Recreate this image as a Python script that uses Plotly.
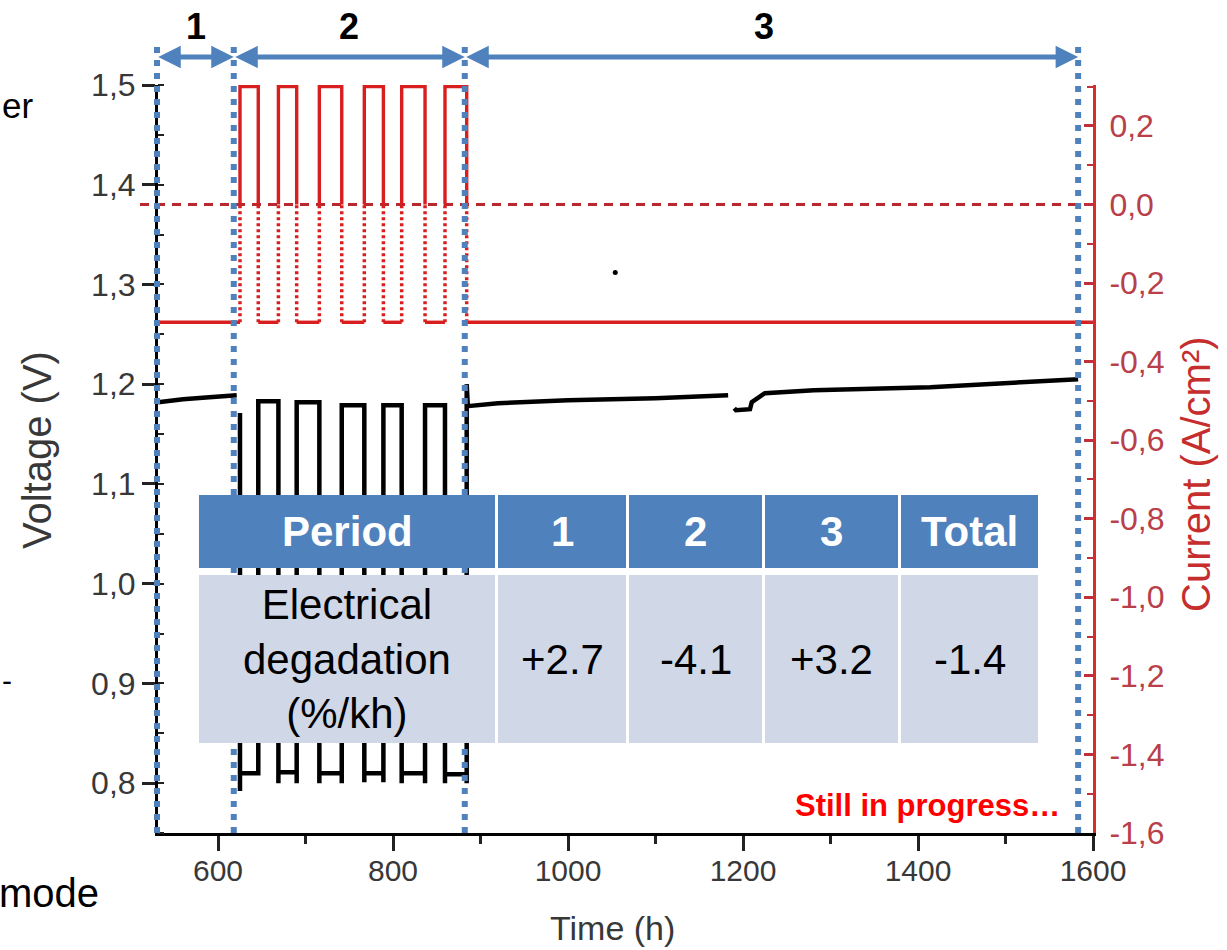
import plotly.graph_objects as go

# ---------------- data ----------------
period_bounds = [530, 618, 882, 1583]          # h, blue dotted separators
period_labels = ["1", "2", "3"]

t_start = 531.4
t_end = 1600
i_ec = -0.3          # A/cm2, electrolysis set point
i_fc = 0.3           # A/cm2, fuel-cell set point
i_zero = 0.0

# period 2 cycling: fuel-cell pulse start / end (h)
pulse_on = [625.1, 669.0, 715.8, 767.2, 809.9, 859.4]
pulse_off = [646.0, 689.9, 741.4, 789.0, 836.6, 884.2]

# voltage, period 1
t_p1 = [531.5, 560, 590, 621.4]
v_p1 = [1.182, 1.185, 1.187, 1.189]

# voltage, period 2
v_p2_start = 1.171
v_fc_level = [0.810, 0.811, 0.810, 0.810, 0.810, 0.809]
v_fc_dip_on = [0.792, 0.800, 0.800, 0.801, 0.800, 0.800]
v_fc_dip_off = [0.810, 0.800, 0.800, 0.801, 0.800, 0.800]
v_ec_level = [1.183, 1.182, 1.179, 1.179, 1.179]

# voltage, period 3
t_p3a = [884.2, 885.5, 920, 1000, 1100, 1183]
v_p3a = [1.200, 1.178, 1.181, 1.184, 1.186, 1.189]
t_p3b = [1190, 1192, 1208, 1210, 1225, 1281, 1414, 1500, 1583]
v_p3b = [1.176, 1.174, 1.175, 1.182, 1.191, 1.194, 1.197, 1.201, 1.205]

t_outlier = [1054]
v_outlier = [1.312]

# table
table_header = ["Period", "1", "2", "3", "Total"]
table_row = ["Electrical<br>degadation<br>(%/kh)", "+2.7", "-4.1", "+3.2", "-1.4"]

# ticks
x_ticks = [600, 800, 1000, 1200, 1400, 1600]
v_ticks = [0.8, 0.9, 1.0, 1.1, 1.2, 1.3, 1.4, 1.5]
v_tick_text = ["0,8", "0,9", "1,0", "1,1", "1,2", "1,3", "1,4", "1,5"]
i_ticks = [-1.6, -1.4, -1.2, -1.0, -0.8, -0.6, -0.4, -0.2, 0.0, 0.2]
i_tick_text = ["-1,6", "-1,4", "-1,2", "-1,0", "-0,8", "-0,6", "-0,4", "-0,2", "0,0", "0,2"]

# ---------------- build polylines ----------------
vx = list(t_p1) + [None, pulse_on[0]]
vy = list(v_p1) + [None, v_p2_start]
for k in range(len(pulse_on)):
    on, off = pulse_on[k], pulse_off[k]
    vx += [on, on, off, off]
    vy += [v_fc_dip_on[k], v_fc_level[k], v_fc_level[k], v_fc_dip_off[k]]
    if k < len(v_ec_level):
        vx += [off, pulse_on[k + 1]]
        vy += [v_ec_level[k], v_ec_level[k]]
vx += list(t_p3a) + [None] + list(t_p3b)
vy += list(v_p3a) + [None] + list(v_p3b)

# current solid part
cx = [t_start, pulse_on[0], None]
cy = [i_ec, i_ec, None]
for k in range(len(pulse_on)):
    on, off = pulse_on[k], pulse_off[k]
    cx += [on, on, off, off, None]
    cy += [i_zero, i_fc, i_fc, i_zero, None]
    nxt = pulse_on[k + 1] if k + 1 < len(pulse_on) else t_end
    cx += [off, nxt, None]
    cy += [i_ec, i_ec, None]
# current dotted lower edges
dx, dy = [], []
for e in pulse_on + pulse_off:
    dx += [e, e, None]
    dy += [i_ec, i_zero, None]

# ---------------- figure ----------------
W, H = 1227, 950
L, R, T, B = 158, 1093, 85, 833
FONT = "Arial, Liberation Sans, sans-serif"
RED = "#D81E1E"
BLUE = "#4F81BD"
GREY = "#383838"


def px(x):
    return (x - L) / (R - L)


def py(y):
    return (B - y) / (B - T)


fig = go.Figure()
fig.add_trace(go.Scatter(x=vx, y=vy, mode="lines", line=dict(color="black", width=4.5),
                         yaxis="y", showlegend=False, hoverinfo="skip"))
fig.add_trace(go.Scatter(x=t_outlier, y=v_outlier, mode="markers",
                         marker=dict(color="black", size=5), yaxis="y", showlegend=False))
fig.add_trace(go.Scatter(x=dx, y=dy, mode="lines", line=dict(color=RED, width=3.5, dash="3px,3px"),
                         yaxis="y2", showlegend=False, hoverinfo="skip"))
fig.add_trace(go.Scatter(x=cx, y=cy, mode="lines", line=dict(color=RED, width=3.4),
                         yaxis="y2", showlegend=False, hoverinfo="skip"))

shapes = []
# zero-current dashed reference
shapes.append(dict(type="line", xref="paper", yref="y2", x0=px(140), x1=1, y0=i_zero, y1=i_zero,
                   line=dict(color="#B8282E", width=3, dash="9px,7px"), layer="below"))
# blue period separators (first one sits on the left axis)
for n, xb in enumerate(period_bounds):
    if n == 0:
        shapes.append(dict(type="line", xref="paper", yref="paper", x0=px(157), x1=px(157),
                           y0=0, y1=py(40), line=dict(color=BLUE, width=6, dash="6px,7px"),
                           layer="above"))
    else:
        shapes.append(dict(type="line", xref="x", yref="paper", x0=xb, x1=xb, y0=0, y1=py(40),
                           line=dict(color=BLUE, width=6, dash="6px,7px"), layer="above"))

# table
cols = [(199, 495), (498, 626), (629, 762), (765, 898), (901, 1038)]
hdr_y = (495, 568)
body_y = (575, 743)
annotations = []
for j, (x0, x1) in enumerate(cols):
    shapes.append(dict(type="rect", xref="paper", yref="paper", x0=px(x0), x1=px(x1),
                       y0=py(hdr_y[1]), y1=py(hdr_y[0]), fillcolor=BLUE, line=dict(width=0),
                       layer="above"))
    shapes.append(dict(type="rect", xref="paper", yref="paper", x0=px(x0), x1=px(x1),
                       y0=py(body_y[1]), y1=py(body_y[0]), fillcolor="#D0D8E8", line=dict(width=0),
                       layer="above"))
    annotations.append(dict(xref="paper", yref="paper", x=px((x0 + x1) / 2), y=py(sum(hdr_y) / 2),
                            text="<b>%s</b>" % table_header[j], showarrow=False,
                            font=dict(family=FONT, size=42, color="white"),
                            xanchor="center", yanchor="middle"))
    annotations.append(dict(xref="paper", yref="paper", x=px((x0 + x1) / 2), y=py(sum(body_y) / 2),
                            text=table_row[j], showarrow=False,
                            font=dict(family=FONT, size=42, color="black"),
                            xanchor="center", yanchor="middle"))

# arrows and period labels
label_x = [575, 750, 1224]
for k in range(3):
    annotations.append(dict(xref="x", yref="paper", x=period_bounds[k + 1], y=py(57),
                            axref="x", ayref="pixel", ax=period_bounds[k], ay=0,
                            text="", showarrow=True, arrowhead=2, startarrowhead=2,
                            arrowside="end+start", arrowsize=0.9, startarrowsize=0.9,
                            arrowwidth=5, arrowcolor=BLUE, standoff=0, startstandoff=0))
    annotations.append(dict(xref="x", yref="paper", x=label_x[k], y=py(27),
                            text="<b>%s</b>" % period_labels[k], showarrow=False,
                            font=dict(family=FONT, size=36, color="black"),
                            xanchor="center", yanchor="middle"))

annotations.append(dict(xref="paper", yref="paper", x=px(927), y=py(805),
                        text="<b>Still in progress…</b>", showarrow=False,
                        font=dict(family=FONT, size=31, color="#FF0000"),
                        xanchor="center", yanchor="middle"))
# axis titles
annotations.append(dict(xref="paper", yref="paper", x=px(37), y=py(450), text="Voltage (V)",
                        textangle=-90, showarrow=False,
                        font=dict(family=FONT, size=40, color=GREY),
                        xanchor="center", yanchor="middle"))
annotations.append(dict(xref="paper", yref="paper", x=px(1196), y=py(474), text="Current (A/cm²)",
                        textangle=-90, showarrow=False,
                        font=dict(family=FONT, size=40, color="#C62E2E"),
                        xanchor="center", yanchor="middle"))
annotations.append(dict(xref="paper", yref="paper", x=px(612), y=py(928), text="Time (h)",
                        showarrow=False, font=dict(family=FONT, size=34, color=GREY),
                        xanchor="center", yanchor="middle"))
# text fragments at the left edge
annotations.append(dict(xref="paper", yref="paper", x=px(0), y=py(105), text="er",
                        showarrow=False, font=dict(family=FONT, size=35, color="black"),
                        xanchor="left", yanchor="middle"))
annotations.append(dict(xref="paper", yref="paper", x=px(0), y=py(680), text="-",
                        showarrow=False, font=dict(family=FONT, size=30, color="black"),
                        xanchor="left", yanchor="middle"))
annotations.append(dict(xref="paper", yref="paper", x=px(101), y=py(893), text="mode",
                        showarrow=False, font=dict(family=FONT, size=40, color="black"),
                        xanchor="right", yanchor="middle"))

fig.update_layout(
    width=W, height=H,
    margin=dict(l=L, r=W - R, t=T, b=H - B, pad=0),
    paper_bgcolor="white", plot_bgcolor="white",
    font=dict(family=FONT, color=GREY),
    showlegend=False,
    shapes=shapes, annotations=annotations,
    xaxis=dict(range=[t_start, t_end], showgrid=False, zeroline=False,
               showline=True, linecolor="black", linewidth=3,
               ticks="outside", ticklen=15, tickwidth=3, tickcolor="#222222",
               tickvals=x_ticks, ticktext=[str(v) for v in x_ticks],
               tickfont=dict(family=FONT, size=30, color=GREY), ticklabelstandoff=-6,
               minor=dict(ticks="outside", ticklen=8, tickwidth=3, tickcolor="#222222",
                          dtick=100, tick0=0, showgrid=False)),
    yaxis=dict(range=[0.75, 1.5], showgrid=False, zeroline=False,
               showline=True, linecolor="black", linewidth=3,
               ticks="outside", ticklen=13, tickwidth=3, tickcolor="#222222",
               tickvals=v_ticks, ticktext=v_tick_text,
               tickfont=dict(family=FONT, size=32, color=GREY),
               minor=dict(ticks="inside", ticklen=6, tickwidth=2, tickcolor="#222222",
                          dtick=0.05, tick0=0, showgrid=False)),
    yaxis2=dict(range=[-1.6, 0.304], overlaying="y", side="right", showgrid=False, zeroline=False,
                showline=True, linecolor="#D92B2B", linewidth=3,
                ticks="inside", ticklen=9, tickwidth=3, tickcolor="#C0303A",
                tickvals=i_ticks, ticktext=i_tick_text,
                tickfont=dict(family=FONT, size=32, color="#B8404A"), ticklabelstandoff=7,
                minor=dict(ticks="inside", ticklen=6, tickwidth=2, tickcolor="#C0303A",
                           dtick=0.1, tick0=0, showgrid=False)),
)

fig.write_html("out.html", config={"displayModeBar": False})
